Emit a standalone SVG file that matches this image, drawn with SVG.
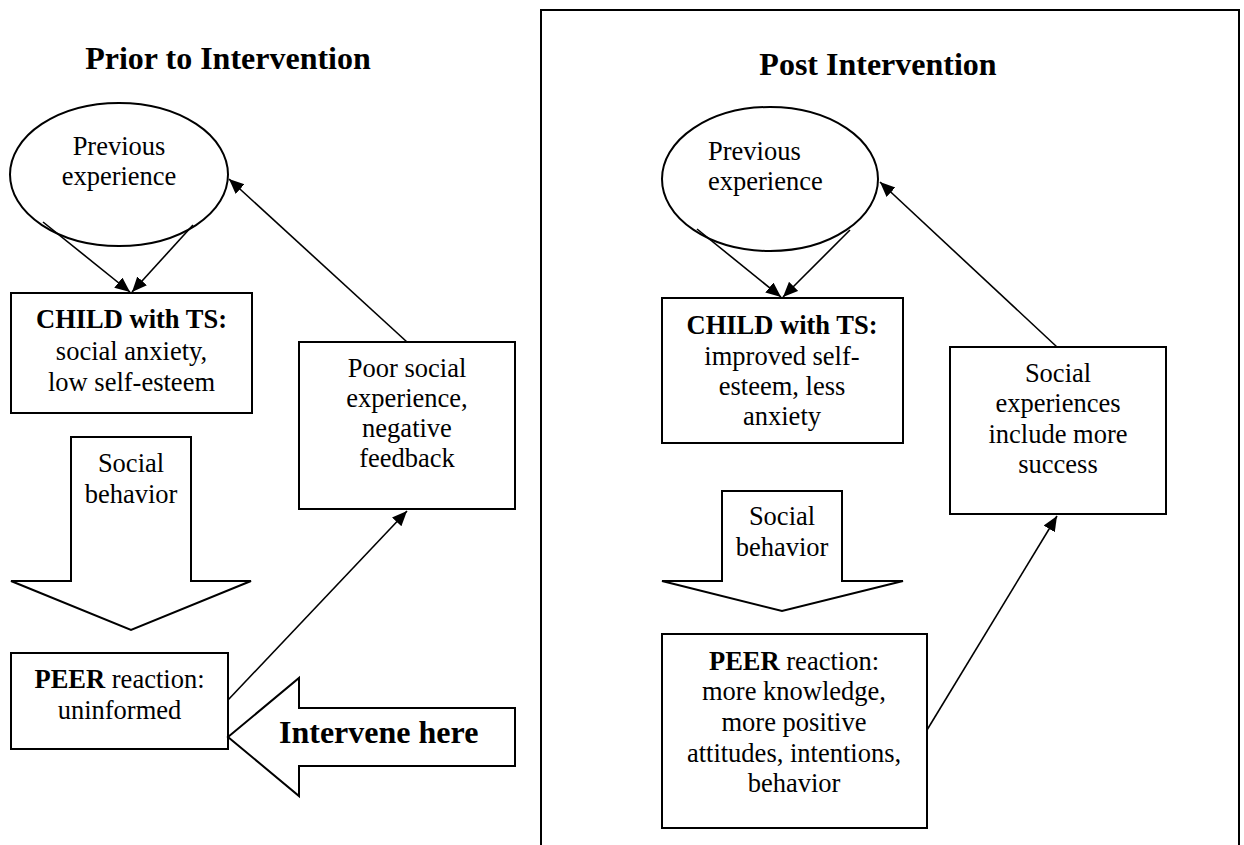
<svg xmlns="http://www.w3.org/2000/svg" width="1244" height="845" viewBox="0 0 1244 845">
<style>
text{font-family:"Liberation Serif","Times New Roman",serif;font-size:26.5px;fill:#000}
.t{font-size:32px;font-weight:bold}
.b{font-weight:bold}
.c{text-anchor:middle}
.shape{fill:#fff;stroke:#000;stroke-width:2}
.conn line{stroke:#000;stroke-width:1.6;fill:none}
</style>
<defs>
<marker id="ah" markerUnits="userSpaceOnUse" markerWidth="16" markerHeight="14" refX="15" refY="6.5" orient="auto">
<path d="M0,0 L15,6.5 L0,13 z" fill="#000"/>
</marker>
</defs>
<rect width="1244" height="845" fill="#fff"/>

<g id="post-frame"><path d="M541,846 V10 H1239 V846" fill="none" stroke="#000" stroke-width="2"/></g>

<g id="title-prior"><text class="t c" x="228" y="69">Prior to Intervention</text></g>
<g id="title-post"><text class="t c" x="878" y="75">Post Intervention</text></g>

<g id="prev-exp-1">
<ellipse class="shape" cx="119" cy="174.5" rx="109" ry="71.5"/>
<text class="c" x="119" y="155">Previous</text>
<text class="c" x="119" y="185">experience</text>
</g>
<g id="child-1">
<rect class="shape" x="11" y="293" width="241" height="120"/>
<text class="c" x="131.5" y="328"><tspan class="b">CHILD with TS:</tspan></text>
<text class="c" x="131.5" y="360">social anxiety,</text>
<text class="c" x="131.5" y="391">low self-esteem</text>
</g>
<g id="social-behavior-1">
<polygon class="shape" points="71,437 191,437 191,581 251,581 131,630 11,581 71,581"/>
<text class="c" x="131" y="472">Social</text>
<text class="c" x="131" y="503">behavior</text>
</g>
<g id="peer-1">
<rect class="shape" x="11" y="653" width="217" height="96"/>
<text class="c" x="119.5" y="688"><tspan class="b">PEER</tspan> reaction:</text>
<text class="c" x="119.5" y="719">uninformed</text>
</g>
<g id="intervene">
<polygon class="shape" points="228,737 299,678 299,708 515,708 515,766 299,766 299,796"/>
<text class="t" x="279" y="743">Intervene here</text>
</g>
<g id="poor-social">
<rect class="shape" x="299" y="342" width="216" height="167"/>
<text class="c" x="407" y="377">Poor social</text>
<text class="c" x="407" y="407">experience,</text>
<text class="c" x="407" y="437">negative</text>
<text class="c" x="407" y="467">feedback</text>
</g>

<g id="prev-exp-2">
<ellipse class="shape" cx="770" cy="179" rx="108" ry="72"/>
<text x="708" y="160">Previous</text>
<text x="708" y="190">experience</text>
</g>
<g id="child-2">
<rect class="shape" x="662" y="298" width="241" height="145"/>
<text class="c" x="782" y="334"><tspan class="b">CHILD with TS:</tspan></text>
<text class="c" x="782" y="365">improved self-</text>
<text class="c" x="782" y="395">esteem, less</text>
<text class="c" x="782" y="425">anxiety</text>
</g>
<g id="social-behavior-2">
<polygon class="shape" points="722,491 842,491 842,581 903,581 782,611 662,581 722,581"/>
<text class="c" x="782" y="525">Social</text>
<text class="c" x="782" y="556">behavior</text>
</g>
<g id="peer-2">
<rect class="shape" x="662" y="634" width="265" height="194"/>
<text class="c" x="794" y="670"><tspan class="b">PEER</tspan> reaction:</text>
<text class="c" x="794" y="700">more knowledge,</text>
<text class="c" x="794" y="731">more positive</text>
<text class="c" x="794" y="762">attitudes, intentions,</text>
<text class="c" x="794" y="792">behavior</text>
</g>
<g id="social-exp">
<rect class="shape" x="950" y="347" width="216" height="167"/>
<text class="c" x="1058" y="382">Social</text>
<text class="c" x="1058" y="412">experiences</text>
<text class="c" x="1058" y="443">include more</text>
<text class="c" x="1058" y="473">success</text>
</g>

<g id="connectors" class="conn">
<line x1="43" y1="222" x2="130" y2="292" marker-end="url(#ah)"/>
<line x1="193" y1="225" x2="132" y2="292" marker-end="url(#ah)"/>
<line x1="228" y1="700" x2="407" y2="511" marker-end="url(#ah)"/>
<line x1="407" y1="342" x2="229" y2="179" marker-end="url(#ah)"/>
<line x1="697" y1="229" x2="781" y2="297" marker-end="url(#ah)"/>
<line x1="850" y1="230" x2="783" y2="297" marker-end="url(#ah)"/>
<line x1="1057" y1="347" x2="880" y2="182" marker-end="url(#ah)"/>
<line x1="927" y1="730" x2="1057" y2="516" marker-end="url(#ah)"/>
</g>
</svg>
